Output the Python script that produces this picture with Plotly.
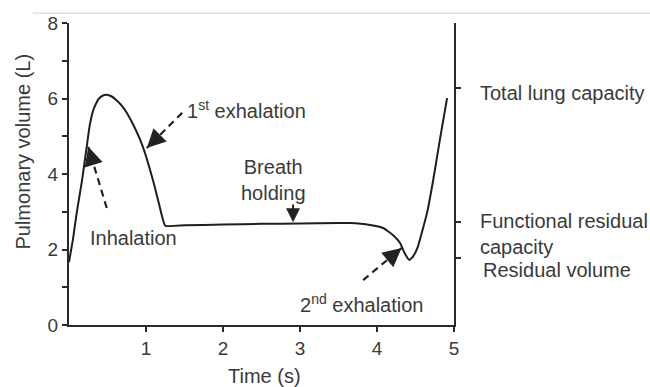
import plotly.graph_objects as go

# Lung volume trace during a forced breathing manoeuvre
time_s = [0.0, 0.05, 0.10, 0.17, 0.23, 0.27, 0.32, 0.38, 0.44, 0.49, 0.55, 0.62,
          0.69, 0.75, 0.86, 0.96, 1.09, 1.17, 1.25, 1.5, 2.0, 2.5, 3.0, 3.5,
          3.65, 3.91, 4.08, 4.21, 4.30, 4.36, 4.42, 4.47, 4.53, 4.65, 4.73,
          4.82, 4.91]
volume_l = [1.67, 2.25, 2.97, 3.84, 4.72, 5.30, 5.72, 5.98, 6.08, 6.10, 6.06, 5.95,
            5.80, 5.62, 5.20, 4.72, 3.84, 3.20, 2.63, 2.64, 2.66, 2.68, 2.69, 2.70,
            2.70, 2.65, 2.57, 2.38, 2.17, 1.90, 1.72, 1.82, 2.07, 2.97, 3.84,
            4.95, 6.01]

# Left axis ticks
y_ticks = [0, 1, 2, 3, 4, 5, 6, 7, 8]
y_tick_text = ["0", "", "2", "", "4", "", "6", "", "8"]
x_ticks = [1, 2, 3, 4, 5]

# Reference volumes marked on the right-hand axis
ref_volumes = [6.28, 2.73, 1.77]

# Dashed pointer arrows: (start time, start volume, tip time, tip volume)
dashed_arrows = [
    (0.49, 3.10, 0.25, 4.72),   # Inhalation
    (1.47, 5.62, 1.01, 4.69),   # 1st exhalation
    (3.82, 1.19, 4.32, 2.04),   # 2nd exhalation
]
hold_arrow = (2.91, 3.23, 2.91, 2.72)  # Breath holding

TXT = "#3a3a3a"
FONT = "Liberation Sans, Arial, sans-serif"
FS = 20

fig = go.Figure()

fig.add_trace(go.Scatter(
    x=time_s, y=volume_l, mode="lines",
    line=dict(color="#1e1e1e", width=2, shape="spline", smoothing=0.35),
    hoverinfo="skip", showlegend=False,
))

for (x0, y0, x1, y1) in dashed_arrows:
    fig.add_trace(go.Scatter(
        x=[x0, x1], y=[y0, y1], mode="lines",
        line=dict(color="#222222", width=2.2, dash="7px,5px"),
        showlegend=False, hoverinfo="skip",
    ))
    fig.add_annotation(
        x=x1, y=y1, ax=x1 + (x0 - x1) * 0.18, ay=y1 + (y0 - y1) * 0.18,
        xref="x", yref="y", axref="x", ayref="y", text="",
        showarrow=True, arrowhead=2, arrowsize=1.7, arrowwidth=2.2,
        arrowcolor="#222222",
    )

x0, y0, x1, y1 = hold_arrow
fig.add_annotation(
    x=x1, y=y1, ax=x0, ay=y0, xref="x", yref="y", axref="x", ayref="y",
    text="", showarrow=True, arrowhead=2, arrowsize=1.4, arrowwidth=2,
    arrowcolor="#222222",
)

# Right-hand axis carrying the reference-volume ticks
fig.add_trace(go.Scatter(x=[5], y=[0], yaxis="y2", mode="markers",
                         marker=dict(opacity=0), showlegend=False,
                         hoverinfo="skip"))

labels = [
    dict(x=0.844, y=2.30, text="Inhalation", xanchor="center"),
    dict(x=1.506, y=5.70, text="1<sup>st</sup> exhalation", xanchor="left"),
    dict(x=2.66, y=3.84, text="Breath<br>holding", xanchor="center"),
    dict(x=2.97, y=0.58, text="2<sup>nd</sup> exhalation", xanchor="left"),
]
for lab in labels:
    fig.add_annotation(xref="x", yref="y", showarrow=False, yanchor="middle",
                       font=dict(size=FS, color=TXT, family=FONT), **lab)

right_labels = [
    (6.15, 24, "Total lung capacity"),
    (2.40, 24, "Functional residual<br>capacity"),
    (1.46, 27, "Residual volume"),
]
for (yv, dx, txt) in right_labels:
    fig.add_annotation(x=5, y=yv, xref="x", yref="y", xshift=dx, text=txt,
                       showarrow=False, xanchor="left", yanchor="middle",
                       align="left",
                       font=dict(size=FS, color=TXT, family=FONT))

# Axis titles
fig.add_annotation(x=-0.119, y=0.575, xref="paper", yref="paper",
                   text="Pulmonary volume (L)", textangle=-90, showarrow=False,
                   xanchor="center", yanchor="middle",
                   font=dict(size=FS, color=TXT, family=FONT))
fig.add_annotation(x=0.507, y=-0.17, xref="paper", yref="paper",
                   text="Time (s)", showarrow=False, xanchor="center",
                   yanchor="middle", font=dict(size=FS, color=TXT, family=FONT))

# Thin rule across the top
fig.add_shape(type="line", xref="paper", yref="paper",
              x0=-0.094, x1=1.52, y0=1.033, y1=1.033,
              line=dict(color="#d6d6d6", width=1.2))

axis_line = dict(showline=True, linecolor="#2a2a2a", linewidth=2,
                 ticks="outside", ticklen=5, tickwidth=1.5, tickcolor="#2a2a2a",
                 showgrid=False, zeroline=False)

fig.update_layout(
    width=650, height=387,
    margin=dict(l=69, r=196, t=23, b=62),
    paper_bgcolor="white", plot_bgcolor="white",
    font=dict(family=FONT, color=TXT, size=19),
    xaxis=dict(range=[0, 5], tickvals=x_ticks, ticktext=[str(v) for v in x_ticks],
               tickfont=dict(size=19, color=TXT), **axis_line),
    yaxis=dict(range=[0, 8], tickvals=y_ticks, ticktext=y_tick_text,
               tickfont=dict(size=19, color=TXT), **axis_line),
    yaxis2=dict(range=[0, 8], overlaying="y", side="right", anchor="x",
                tickvals=ref_volumes, showticklabels=False, **axis_line),
    showlegend=False,
)

fig.write_html("out.html")
